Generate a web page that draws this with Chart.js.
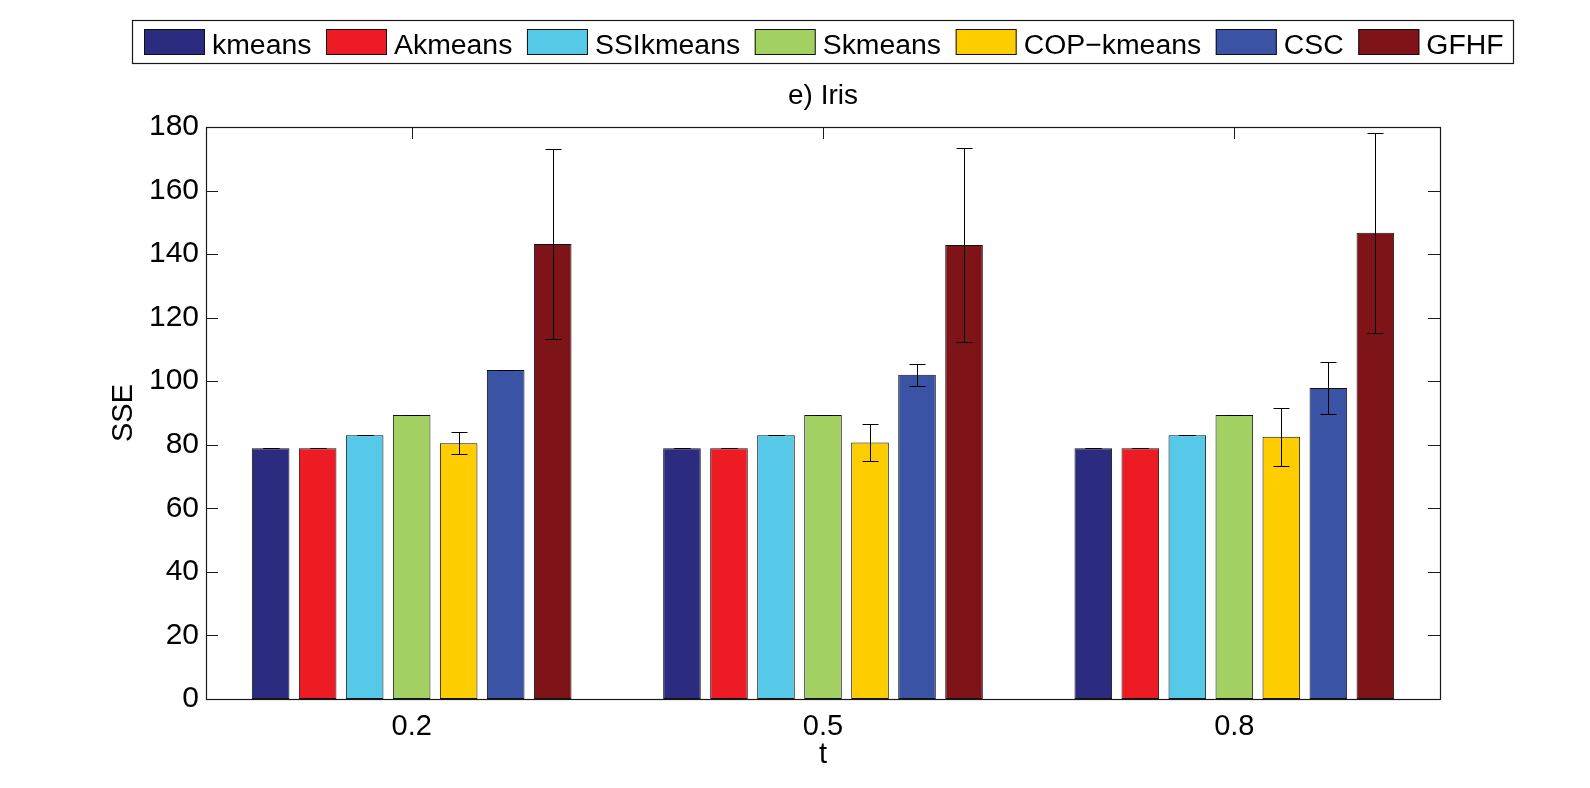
<!DOCTYPE html>
<html><head><meta charset="utf-8">
<script src="https://cdn.jsdelivr.net/npm/chart.js@4.4.0/dist/chart.umd.min.js"></script>
<style>html,body{margin:0;padding:0;background:#fff;} canvas{display:block;}</style>
</head><body>
<canvas id="c" width="1590" height="788"></canvas>
<script>
// ---- data ----
const categories = ['0.2', '0.5', '0.8'];
const seriesNames = ['kmeans', 'Akmeans', 'SSIkmeans', 'Skmeans', 'COP\u2212kmeans', 'CSC', 'GFHF'];
const kmeans     = [78.9, 78.9, 78.9];
const akmeans    = [78.9, 78.9, 78.9];
const ssikmeans  = [83.0, 83.0, 83.0];
const skmeans    = [89.4, 89.4, 89.4];
const copkmeans  = [80.5, 80.7, 82.5];
const csc        = [103.5, 102.0, 97.9];
const gfhf       = [143.2, 142.9, 146.7];
const kmeansErr    = [0, 0, 0];
const akmeansErr   = [0, 0, 0];
const ssikmeansErr = [0, 0, 0];
const skmeansErr   = [0, 0, 0];
const copkmeansErr = [3.4, 5.9, 9.1];
const cscErr       = [0, 3.4, 8.3];
const gfhfErr      = [30.0, 30.6, 31.5];
const yTickValues = [0, 20, 40, 60, 80, 100, 120, 140, 160, 180];
const chartTitle = 'e) Iris';
const xTitle = 't';
const yTitle = 'SSE';

// ---- styles ----
const colors = ['#2b2c80', '#ed1c24', '#56c8e8', '#a3d063', '#fecd00', '#3a53a4', '#7f1418'];
const FONT = '"Liberation Sans", Arial, Helvetica, sans-serif';
const AXIS = '#1a1a1a';

const values = [kmeans, akmeans, ssikmeans, skmeans, copkmeans, csc, gfhf];
const errors = [kmeansErr, akmeansErr, ssikmeansErr, skmeansErr, copkmeansErr, cscErr, gfhfErr];

const datasets = seriesNames.map((name, i) => ({
  label: name,
  data: values[i],
  errors: errors[i],
  backgroundColor: colors[i],
  borderColor: '#111',
  borderWidth: 1,
  borderSkipped: false,
  barPercentage: 0.8,
  categoryPercentage: 0.8
}));

const ticksPlugin = {
  id: 'insideTicks',
  beforeDatasetsDraw(chart) {
    const {ctx, chartArea: ca, scales} = chart;
    ctx.save();
    ctx.strokeStyle = AXIS;
    ctx.lineWidth = 1;
    ctx.beginPath();
    scales.y.ticks.forEach(t => {
      const y = Math.round(scales.y.getPixelForValue(t.value)) + 0.5;
      ctx.moveTo(ca.left, y); ctx.lineTo(ca.left + 12, y);
      ctx.moveTo(ca.right, y); ctx.lineTo(ca.right - 12, y);
    });
    categories.forEach((c, i) => {
      const x = Math.round(scales.x.getPixelForValue(i)) + 0.5;
      ctx.moveTo(x, ca.top); ctx.lineTo(x, ca.top + 12);
      ctx.moveTo(x, ca.bottom); ctx.lineTo(x, ca.bottom - 12);
    });
    ctx.stroke();
    ctx.restore();
  },
  afterDatasetsDraw(chart) {
    const {ctx, chartArea: ca, scales} = chart;
    ctx.save();
    // error bars
    ctx.strokeStyle = '#000';
    ctx.lineWidth = 1;
    chart.data.datasets.forEach((ds, di) => {
      const meta = chart.getDatasetMeta(di);
      meta.data.forEach((bar, j) => {
        const v = ds.data[j], e = ds.errors[j];
        const x = Math.round(bar.x) + 0.5;
        const yT = Math.round(scales.y.getPixelForValue(v + e)) + 0.5;
        const yB = Math.round(scales.y.getPixelForValue(v - e)) + 0.5;
        ctx.beginPath();
        ctx.moveTo(x, yT); ctx.lineTo(x, yB);
        ctx.moveTo(x - 8, yT); ctx.lineTo(x + 8, yT);
        ctx.moveTo(x - 8, yB); ctx.lineTo(x + 8, yB);
        ctx.stroke();
      });
    });
    // axes box
    ctx.strokeStyle = AXIS;
    ctx.lineWidth = 1.2;
    ctx.strokeRect(Math.round(ca.left) + 0.5, Math.round(ca.top) + 0.5,
                   Math.round(ca.right - ca.left), Math.round(ca.bottom - ca.top));
    // title
    ctx.fillStyle = '#000';
    ctx.font = '28px ' + FONT;
    ctx.textAlign = 'center';
    ctx.textBaseline = 'alphabetic';
    ctx.fillText(chartTitle, (ca.left + ca.right) / 2, 104);
    // legend
    ctx.font = '28.4px ' + FONT;
    ctx.textAlign = 'left';
    ctx.lineWidth = 1.2;
    ctx.strokeStyle = AXIS;
    ctx.strokeRect(132.5, 20.5, 1381, 43);
    let x = 144;
    chart.data.datasets.forEach(ds => {
      ctx.fillStyle = ds.backgroundColor;
      ctx.fillRect(x, 29, 61, 26);
      ctx.lineWidth = 1;
      ctx.strokeStyle = '#111';
      ctx.strokeRect(x + 0.5, 29.5, 60, 25);
      ctx.fillStyle = '#000';
      ctx.fillText(ds.label, x + 68, 54);
      x += 68 + ctx.measureText(ds.label).width + 14.6;
    });
    ctx.restore();
  }
};

new Chart(document.getElementById('c'), {
  type: 'bar',
  data: { labels: categories, datasets },
  options: {
    responsive: false,
    animation: false,
    devicePixelRatio: 1,
    layout: { padding: { top: 127, right: 150, bottom: 0, left: 0 } },
    plugins: { legend: { display: false }, title: { display: false }, tooltip: { enabled: false } },
    scales: {
      x: {
        grid: { display: false, drawTicks: false },
        border: { display: false },
        ticks: { color: '#000', font: { family: FONT, size: 29 }, padding: 11 },
        title: { display: true, text: xTitle, color: '#000', font: { family: FONT, size: 29 }, padding: { top: 0, bottom: 16 } },
        afterFit(s) { s.height = 89; }
      },
      y: {
        min: 0, max: 180,
        afterBuildTicks(s) { s.ticks = yTickValues.map(v => ({ value: v })); },
        grid: { display: false, drawTicks: false },
        border: { display: false },
        ticks: { color: '#000', font: { family: FONT, size: 30 }, padding: 7 },
        title: { display: true, text: yTitle, color: '#000', font: { family: FONT, size: 29 }, padding: { top: 107, bottom: 0 } },
        afterFit(s) { s.width = 206; }
      }
    }
  },
  plugins: [ticksPlugin]
});
</script>
</body></html>
